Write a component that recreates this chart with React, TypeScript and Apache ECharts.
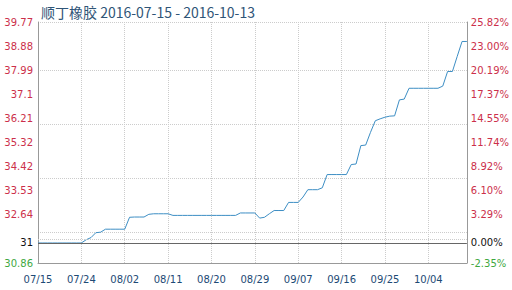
import React, { useEffect, useRef } from "react";
import * as echarts from "echarts";

const titleText = "顺丁橡胶 2016-07-15 - 2016-10-13";

// daily categories 07/15 .. 10/12
const startDate = new Date(2016, 6, 15);
const dayCount = 90;
const dates: string[] = [];
for (let i = 0; i < dayCount; i++) {
  const d = new Date(startDate.getTime());
  d.setDate(startDate.getDate() + i);
  const mm = String(d.getMonth() + 1).padStart(2, "0");
  const dd = String(d.getDate()).padStart(2, "0");
  dates.push(`${mm}/${dd}`);
}

const prices = [
  31.6, 31.6, 31.6, 31.6, 31.6, 31.6, 31.6, 31.6, 31.6, 31.6,
  31.72, 31.8, 31.98, 32.0, 32.11, 32.11, 32.11, 32.11, 32.11, 32.55,
  32.56, 32.56, 32.56, 32.66, 32.68, 32.68, 32.68, 32.68, 32.62, 32.62,
  32.62, 32.62, 32.62, 32.62, 32.62, 32.62, 32.62, 32.62, 32.62, 32.62,
  32.62, 32.62, 32.71, 32.71, 32.71, 32.71, 32.52, 32.55, 32.68, 32.8,
  32.8, 32.8, 33.1, 33.1, 33.1, 33.3, 33.57, 33.57, 33.57, 33.64,
  34.13, 34.13, 34.13, 34.13, 34.13, 34.5, 34.52, 35.2, 35.22, 35.69,
  36.12, 36.19, 36.25, 36.29, 36.3, 36.89, 36.92, 37.32, 37.32, 37.32,
  37.32, 37.32, 37.32, 37.32, 37.4, 37.94, 37.94, 38.5, 39.05, 39.05,
];

const basePrice = 31.6;
const axisMin = 30.86;
const axisMax = 39.77;
const hiddenGridValue = 31.75;
const labelValues = [30.86, 31.6, 32.64, 33.53, 34.42, 35.32, 36.21, 37.1, 37.99, 38.88, 39.77];
const leftLabels = ["30.86", "31", "32.64", "33.53", "34.42", "35.32", "36.21", "37.1", "37.99", "38.88", "39.77"];
const rightLabels = ["-2.35%", "0.00%", "3.29%", "6.10%", "8.92%", "11.74%", "14.55%", "17.37%", "20.19%", "23.00%", "25.82%"];

const RED = "#cc2f4a";
const GREEN = "#3fa83f";
const BLACK = "#111111";
const labelColor = (i: number) => (i === 0 ? GREEN : i === 1 ? BLACK : RED);
const idxOf = (v: number) => {
  let best = 0;
  for (let i = 0; i < labelValues.length; i++) {
    if (Math.abs(labelValues[i] - v) < Math.abs(labelValues[best] - v)) best = i;
  }
  return best;
};

export default function App() {
  const ref = useRef<HTMLDivElement>(null);
  useEffect(() => {
    if (!ref.current) return;
    const chart = echarts.init(ref.current, undefined, { renderer: "svg" });
    const font = "DejaVu Sans";
    chart.setOption({
      animation: false,
      title: {
        text: titleText,
        left: 36,
        top: 0,
        textStyle: { fontSize: 14, fontWeight: "normal", color: "#2f5577", fontFamily: "Noto Sans CJK SC" },
      },
      grid: { left: 38, right: 44, top: 22, bottom: 27, containLabel: false },
      xAxis: {
        type: "category",
        data: dates,
        boundaryGap: false,
        axisLine: { lineStyle: { color: "#999999", width: 1 } },
        axisTick: { show: false },
        axisLabel: { interval: 8, color: "#1d4a75", fontSize: 10, fontFamily: font, margin: 11 },
        splitLine: { show: true, interval: 8, lineStyle: { color: "#cccccc", type: "dotted", width: 1 } },
      },
      yAxis: [
        {
          type: "value",
          position: "left",
          min: axisMin,
          max: axisMax,
          axisLine: { show: true, lineStyle: { color: "#999999" } },
          axisTick: { show: false },
          splitLine: { show: true, lineStyle: { color: "#cccccc", type: "dotted", width: 1 } },
          axisLabel: {
            customValues: labelValues,
            fontSize: 10,
            fontFamily: font,
            margin: 5,
            formatter: (v: number) => leftLabels[idxOf(v)],
            color: (v: number) => labelColor(idxOf(v)),
          },
        },
        {
          type: "value",
          position: "right",
          min: axisMin,
          max: axisMax,
          axisLine: { show: true, lineStyle: { color: "#999999" } },
          axisTick: { show: false },
          splitLine: { show: false },
          axisLabel: {
            customValues: labelValues,
            fontSize: 10,
            fontFamily: font,
            margin: 4,
            formatter: (v: number) => rightLabels[idxOf(v)],
            color: (v: number) => labelColor(idxOf(v)),
          },
        },
      ],
      series: [
        {
          type: "line",
          data: prices,
          yAxisIndex: 0,
          symbol: "none",
          lineStyle: { color: "#3d8ec4", width: 1 },
          markLine: {
            silent: true,
            symbol: "none",
            label: { show: false },
            data: [
              { yAxis: hiddenGridValue, lineStyle: { color: "#cccccc", type: "dotted", width: 1 } },
              { yAxis: basePrice, lineStyle: { color: "#666666", type: "solid", width: 1 } },
            ],
          },
          z: 3,
        },
      ],
    });
    return () => chart.dispose();
  }, []);
  return <div ref={ref} style={{ width: 512, height: 290, position: "absolute", left: 0, top: 0 }} />;
}
